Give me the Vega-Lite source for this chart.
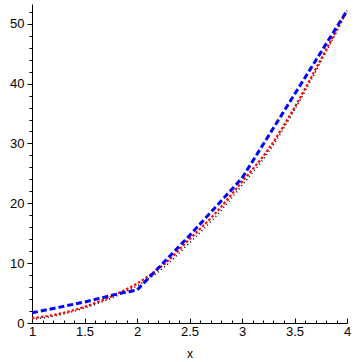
{
  "$schema": "https://vega.github.io/schema/vega-lite/v6.json",
  "width": 315,
  "height": 319,
  "autosize": "none",
  "padding": {"left": 32, "top": 4, "right": 15, "bottom": 39},
  "config": {
    "view": {"stroke": null},
    "axis": {"labelFont": "Liberation Sans", "titleFont": "Liberation Sans", "labelColor": "black", "titleColor": "black", "domainColor": "black", "tickColor": "black", "grid": false, "labelFontSize": 13, "titleFontSize": 12, "titleFontWeight": "normal"}
  },
  "resolve": {"axis": {"x": "independent", "y": "independent"}},
  "layer": [
    {
      "data": {"values": [
        {"x": 1, "y": 0.6}, {"x": 1.25, "y": 1.3}, {"x": 1.5, "y": 2.5}, {"x": 1.75, "y": 4.1},
        {"x": 2, "y": 6.2}, {"x": 2.25, "y": 9.2}, {"x": 2.5, "y": 13.4}, {"x": 2.75, "y": 17.8},
        {"x": 3, "y": 23.0}, {"x": 3.25, "y": 28.5}, {"x": 3.5, "y": 35.6}, {"x": 3.75, "y": 43.6}, {"x": 4, "y": 52.0}
      ]},
      "mark": {"type": "line", "color": "black", "strokeWidth": 1.5, "strokeDash": [1, 3], "interpolate": "monotone"},
      "encoding": {
        "x": {"field": "x", "type": "quantitative", "scale": {"domain": [1, 4], "nice": false, "zero": false},
          "axis": {"orient": "bottom", "values": [1, 1.5, 2, 2.5, 3, 3.5, 4], "format": "~g", "tickSize": -5, "labelPadding": 7, "title": "x", "titlePadding": 10, "labelFlush": false}},
        "y": {"field": "y", "type": "quantitative", "scale": {"domain": [0, 53.3], "nice": false},
          "axis": {"orient": "left", "values": [0, 10, 20, 30, 40, 50], "tickSize": 5, "labelPadding": 3, "title": null}}
      }
    },
    {
      "data": {"values": [
        {"x": 1, "y": 0.8}, {"x": 1.25, "y": 1.5}, {"x": 1.5, "y": 2.7}, {"x": 1.75, "y": 4.4},
        {"x": 2, "y": 6.6}, {"x": 2.25, "y": 9.7}, {"x": 2.5, "y": 14.0}, {"x": 2.75, "y": 18.4},
        {"x": 3, "y": 23.6}, {"x": 3.25, "y": 29.0}, {"x": 3.5, "y": 36.0}, {"x": 3.75, "y": 44.0}, {"x": 4, "y": 52.2}
      ]},
      "mark": {"type": "line", "color": "red", "strokeWidth": 2.2, "strokeDash": [2.5, 2], "interpolate": "monotone"},
      "encoding": {
        "x": {"field": "x", "type": "quantitative", "scale": {"domain": [1, 4], "nice": false, "zero": false},
          "axis": {"orient": "bottom", "values": [1.1, 1.2, 1.3, 1.4, 1.6, 1.7, 1.8, 1.9, 2.1, 2.2, 2.3, 2.4, 2.6, 2.7, 2.8, 2.9, 3.1, 3.2, 3.3, 3.4, 3.6, 3.7, 3.8, 3.9], "tickSize": -3, "labels": false, "domain": false, "title": null}},
        "y": {"field": "y", "type": "quantitative", "scale": {"domain": [0, 53.3], "nice": false},
          "axis": {"orient": "left", "values": [2, 4, 6, 8, 12, 14, 16, 18, 22, 24, 26, 28, 32, 34, 36, 38, 42, 44, 46, 48, 52], "tickSize": 3, "labels": false, "domain": false, "title": null}}
      }
    },
    {
      "data": {"values": [
        {"x": 1, "y": 1.7}, {"x": 1.5, "y": 3.5}, {"x": 1.85, "y": 5.0}, {"x": 2.0, "y": 5.5},
        {"x": 2.5, "y": 14.6}, {"x": 3, "y": 24.2}, {"x": 4, "y": 52.2}
      ]},
      "mark": {"type": "line", "color": "blue", "strokeWidth": 3, "strokeDash": [6, 3]},
      "encoding": {
        "x": {"field": "x", "type": "quantitative", "scale": {"domain": [1, 4], "nice": false, "zero": false}, "axis": null},
        "y": {"field": "y", "type": "quantitative", "scale": {"domain": [0, 53.3], "nice": false}, "axis": null}
      }
    }
  ]
}
